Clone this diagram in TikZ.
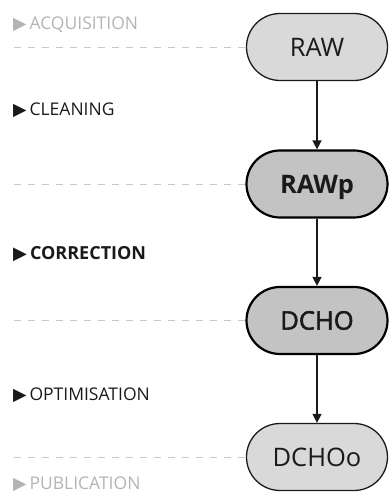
\documentclass[tikz,border=0pt]{standalone}
\usepackage{fontspec}
\setmainfont{Open Sans}
\newfontfamily\symfont{DejaVu Sans}
\newfontfamily\medfont[FakeBold=2]{Open Sans}
\usetikzlibrary{shapes.misc,arrows.meta}
\definecolor{lightfill}{HTML}{D9D9D9}
\definecolor{darkfill}{HTML}{C3C3C3}
\definecolor{labgray}{HTML}{B4B4B4}
\definecolor{dashgray}{HTML}{C8C8C8}
\definecolor{ink}{HTML}{1A1A1A}
\tikzset{
  x=1pt,y=1pt,
  stage/.style={rounded rectangle, minimum width=141pt, minimum height=67pt, inner sep=0pt,
    text height=18.2pt, text depth=0pt, text=ink, font=\fontsize{25.5}{30}\selectfont},
  light/.style={stage, fill=lightfill, draw=ink, line width=1.3pt},
  heavy/.style={stage, fill=darkfill, draw=black, line width=2.2pt},
  lab/.style={anchor=west, inner sep=0pt, text height=12.5pt, text depth=0pt, font=\fontsize{17.5}{20}\selectfont},
  faint/.style={lab, text=labgray},
  dark/.style={lab, text=ink},
  dashline/.style={draw=dashgray, line width=0.9pt, dash pattern=on 7pt off 7pt},
  arr/.style={draw=ink, line width=1.4pt, -{Triangle[length=9pt,width=9pt]}},
}
\begin{document}
\begin{tikzpicture}
\useasboundingbox (0,0) rectangle (389,492);
% stages
\node[light] (raw) at (317,445) {RAW};
\node[heavy, font=\fontsize{25.5}{30}\selectfont\bfseries] (rawp) at (317,308) {RAWp};
\node[heavy, font=\fontsize{25.5}{30}\selectfont\medfont] (dcho) at (317,171.5) {DCHO};
\node[light] (dchoo) at (317,35) {DCHOo};
% dashed guide lines
\coordinate (g1) at (14,445);
\coordinate (g2) at (14,308);
\coordinate (g3) at (14,171.5);
\coordinate (g4) at (14,35);
\draw[dashline] (g1) -- (raw.west);
\draw[dashline] (g2) -- (rawp.west);
\draw[dashline] (g3) -- (dcho.west);
\draw[dashline] (g4) -- (dchoo.west);
% arrows
\draw[arr] (raw.south) -- (rawp.north);
\draw[arr] (rawp.south) -- (dcho.north);
\draw[arr] (dcho.south) -- (dchoo.north);
% phase labels
\node[faint] (l1) at (13,469) {{\symfont ▶}\,ACQUISITION};
\node[dark] (l2) at (13,383) {{\symfont ▶}\,CLEANING};
\node[dark, text height=13pt, font=\fontsize{18}{21}\selectfont\bfseries] (l3) at (13,239) {{\symfont ▶}\,CORRECTION};
\node[dark] (l4) at (13,98) {{\symfont ▶}\,OPTIMISATION};
\node[faint] (l5) at (13,9) {{\symfont ▶}\,PUBLICATION};
\end{tikzpicture}
\end{document}
